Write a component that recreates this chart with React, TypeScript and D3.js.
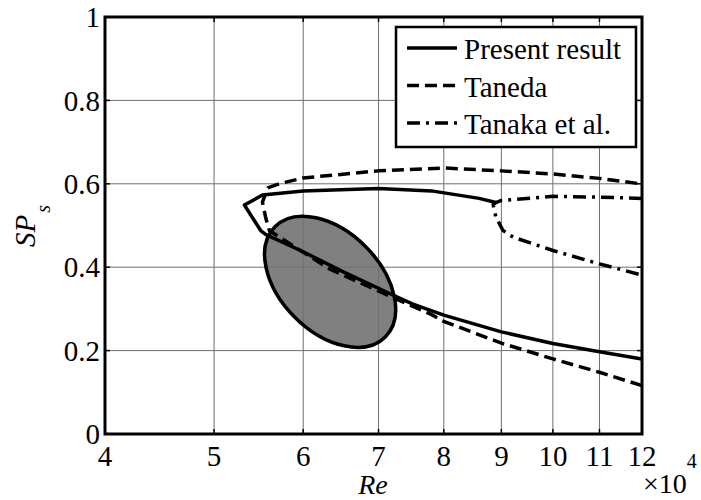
import React from 'react'
import * as d3 from 'd3'

// Re values are in units of 10^4
const xTicks = [4, 5, 6, 7, 8, 9, 10, 11, 12]
const yTicks = [0, 0.2, 0.4, 0.6, 0.8, 1]
const yTickLabels = ['0', '0.2', '0.4', '0.6', '0.8', '1']

const presentRe = [12, 11, 10, 9, 8, 7.5, 7.2, 6.5, 6, 5.56, 5.5, 5.32, 5.52, 6, 7, 7.8, 8.6, 8.9]
const presentSP = [0.18, 0.197, 0.217, 0.245, 0.285, 0.312, 0.334, 0.39, 0.437, 0.478, 0.488, 0.549, 0.573, 0.583, 0.589, 0.583, 0.565, 0.555]

const tanedaRe = [12, 11, 10, 9, 8, 7.78, 7.2, 6.33, 5.6, 5.56, 5.52, 5.58, 5.71, 6, 7, 8, 9, 10, 11, 12]
const tanedaSP = [0.116, 0.148, 0.18, 0.218, 0.27, 0.288, 0.328, 0.396, 0.4875, 0.516, 0.556, 0.59, 0.6, 0.614, 0.631, 0.638, 0.631, 0.6235, 0.613, 0.5995]

const tanakaRe = [12, 11, 10, 9, 8.9, 8.85, 8.9, 9.03, 9.22, 10, 11, 12]
const tanakaSP = [0.565, 0.568, 0.57, 0.56, 0.555, 0.55, 0.52, 0.488, 0.472, 0.44, 0.408, 0.381]

// shaded region centre (Re, SP)
const regionCenter = [6.34, 0.365]

const legendNames = ['Present result', 'Taneda', 'Tanaka et al.']

const W = 701
const H = 500
const left = 105, right = 642, top = 17, bottom = 434
const font = "Liberation Serif, Times New Roman, Times, Tinos, Noto Serif, DejaVu Serif, FreeSerif, serif"

const x = d3.scaleLog().domain([4, 12]).range([left, right])
const y = d3.scaleLinear().domain([0, 1]).range([bottom, top])

const line = d3.line<number[]>()
    .x(d => x(d[0]))
    .y(d => y(d[1]))

const zip = (a: number[], b: number[]) => a.map((v, i) => [v, b[i]])

const styles = [
    {dash: 'none'},
    {dash: '12,6'},
    {dash: '13,6,3,6'},
]

const App = () => {
    const series = [zip(presentRe, presentSP), zip(tanedaRe, tanedaSP), zip(tanakaRe, tanakaSP)]
    const cx = x(regionCenter[0])
    const cy = y(regionCenter[1])

    return (
        <svg width={W} height={H} fontFamily={font} style={{position: 'absolute', left: 0, top: 0, background: '#fff'}}>
            <defs>
                <clipPath id="plot">
                    <rect x={left} y={top} width={right - left} height={bottom - top}/>
                </clipPath>
            </defs>
            <rect x={left} y={top} width={right - left} height={bottom - top} fill="#fff"/>

            {/* shaded region */}
            <ellipse cx={cx} cy={cy} rx={78} ry={50} transform={`rotate(45, ${cx}, ${cy})`}
                     fill="#808080" stroke="none"/>

            {/* grid */}
            {xTicks.map(t => (
                <line key={'gx' + t} x1={x(t)} x2={x(t)} y1={top} y2={bottom} stroke="#6f6f6f" strokeWidth={1}/>
            ))}
            {yTicks.map(t => (
                <line key={'gy' + t} x1={left} x2={right} y1={y(t)} y2={y(t)} stroke="#6f6f6f" strokeWidth={1}/>
            ))}

            <ellipse cx={cx} cy={cy} rx={78} ry={50} transform={`rotate(45, ${cx}, ${cy})`}
                     fill="none" stroke="#000" strokeWidth={3.5}/>

            <g clipPath="url(#plot)">
                {series.map((s, i) => (
                    <path key={i} d={line(s) || ''} fill="none" stroke="#000" strokeWidth={3.5}
                          strokeDasharray={styles[i].dash} strokeLinejoin="round"/>
                ))}
            </g>

            {/* ticks */}
            {xTicks.map(t => (
                <g key={'tx' + t}>
                    <line x1={x(t)} x2={x(t)} y1={bottom} y2={bottom - 5} stroke="#000" strokeWidth={1.5}/>
                    <line x1={x(t)} x2={x(t)} y1={top} y2={top + 5} stroke="#000" strokeWidth={1.5}/>
                    <text x={x(t)} y={466} fontSize={29} textAnchor="middle">{t}</text>
                </g>
            ))}
            {yTicks.map((t, i) => (
                <g key={'ty' + t}>
                    <line x1={left} x2={left + 5} y1={y(t)} y2={y(t)} stroke="#000" strokeWidth={1.5}/>
                    <line x1={right} x2={right - 5} y1={y(t)} y2={y(t)} stroke="#000" strokeWidth={1.5}/>
                    <text x={100} y={y(t)} dy="0.35em" fontSize={29} textAnchor="end">{yTickLabels[i]}</text>
                </g>
            ))}

            <rect x={left} y={top} width={right - left} height={bottom - top} fill="none" stroke="#000" strokeWidth={3}/>

            {/* legend */}
            <rect x={396} y={27} width={240} height={120} fill="#fff" stroke="#000" strokeWidth={2.5}/>
            {legendNames.map((name, i) => {
                const ly = 48 + i * 37.5
                return (
                    <g key={name}>
                        <line x1={407} x2={457} y1={ly} y2={ly} stroke="#000" strokeWidth={3.5}
                              strokeDasharray={styles[i].dash}/>
                        <text x={464} y={ly + 11} fontSize={29}>{name}</text>
                    </g>
                )
            })}

            {/* axis labels */}
            <text x={373} y={494} fontSize={28} fontStyle="italic" textAnchor="middle">Re</text>
            <text x={643} y={493} fontSize={28}>
                ×10<tspan fontSize={20} dy={-25}>4</tspan>
            </text>
            <text transform="translate(35, 226) rotate(-90)" fontSize={29} fontStyle="italic" textAnchor="middle">
                SP<tspan fontSize={20} dx={2} dy={15}>s</tspan>
            </text>
        </svg>
    )
}

export default App
